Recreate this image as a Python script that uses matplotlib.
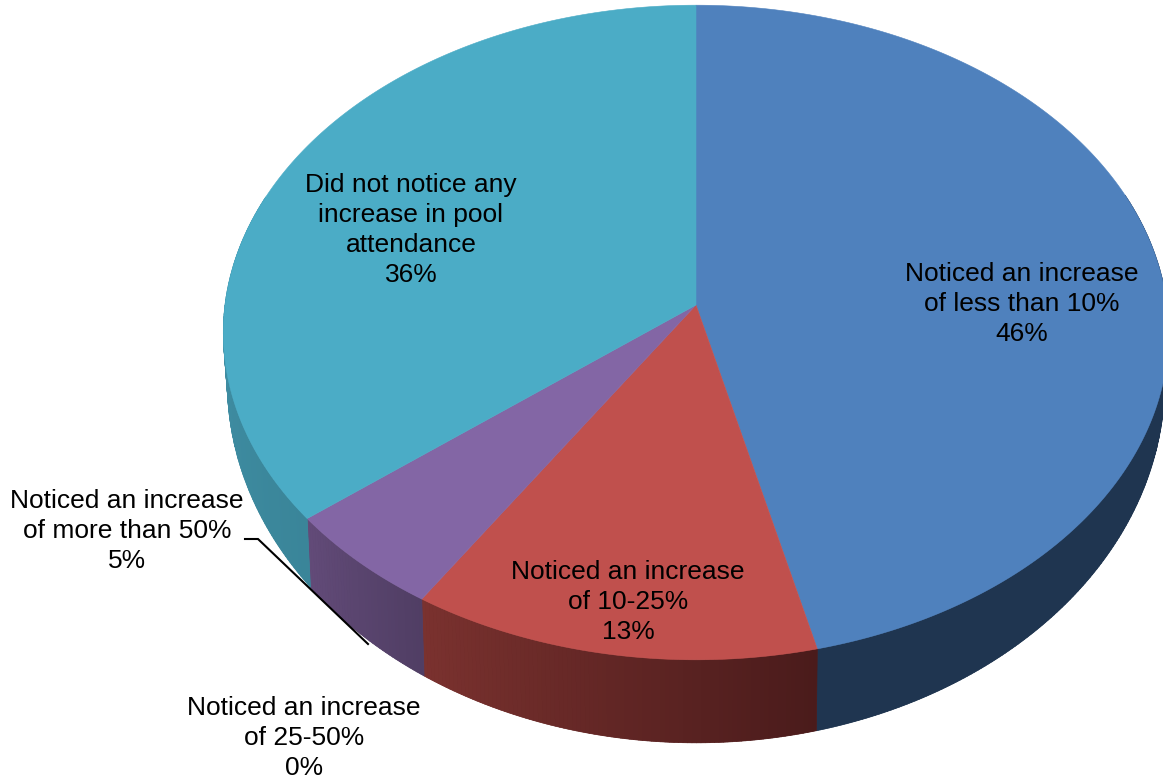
import numpy as np
import matplotlib
matplotlib.use('Agg')
import matplotlib.pyplot as plt
from matplotlib.collections import PolyCollection
from matplotlib.colors import to_rgb

categories = ['Noticed an increase\nof less than 10%',
              'Noticed an increase\nof 10-25%',
              'Noticed an increase\nof 25-50%',
              'Noticed an increase\nof more than 50%',
              'Did not notice any\nincrease in pool\nattendance']
values = [46.2, 12.9, 0, 5.2, 35.7]
top_colors = ['#4F81BD', '#C0504D', '#9BBB59', '#8366A5', '#4BACC6']
# side shade at the start and end of each slice (clockwise)
side_start = ['#1F3550', '#4A1B1B', '#5A6E35', '#503E64', '#3A8599']
side_end = ['#1F3550', '#7B322F', '#5A6E35', '#634B79', '#4BA3BC']
label_pos = [(1022, 304), (628, 602), (304, 738), (127, 531), (411, 230)]

plt.rcParams['font.family'] = ['Liberation Sans', 'DejaVu Sans']

# perspective of the pie, in pixels
CX, K = 696, 0.084
TOP_Y, TOP_R, TOP_S = 305, 471, 325
BOT_Y, BOT_R, BOT_S = 352, 467, 358


def rim(frac, y0, r, s):
    """fraction of the pie (clockwise from 12 o'clock) -> point on the tilted disc"""
    a = 2 * np.pi * np.asarray(frac)
    u, v = np.sin(a), -np.cos(a)
    d = 1 - K * v
    return CX + r * u / d, y0 + s * v / d


fig = plt.figure(figsize=(11.63, 7.8), dpi=100)
ax = fig.add_axes([0, 0, 1, 1])
ax.set_xlim(0, 1163)
ax.set_ylim(780, 0)
ax.axis('off')

shares = np.array(values) / sum(values)
edges = np.concatenate([[0], np.cumsum(shares)])

# side wall first, the top goes over it
for i in range(len(values)):
    if shares[i] == 0:
        continue
    n = max(int(shares[i] * 720), 2)
    f = np.linspace(edges[i], edges[i + 1], n + 1)
    f = f[np.cos(2 * np.pi * f) <= 0.35]  # back of the pie is hidden
    xt, yt = rim(f, TOP_Y, TOP_R, TOP_S)
    xb, yb = rim(f, BOT_Y, BOT_R, BOT_S)
    c0, c1 = np.array(to_rgb(side_start[i])), np.array(to_rgb(side_end[i]))
    # base polygon so no white shows through between the shaded strips
    ax.fill(np.r_[xt, xb[::-1]], np.r_[yt, yb[::-1]], color=(c0 + c1) / 2, lw=0)
    quads, cols = [], []
    for j in range(len(f) - 1):
        quads.append([(xt[j], yt[j]), (xt[j + 1], yt[j + 1]), (xb[j + 1], yb[j + 1]), (xb[j], yb[j])])
        cols.append(c0 + (c1 - c0) * (f[j] - edges[i]) / shares[i])
    ax.add_collection(PolyCollection(quads, facecolors=cols, edgecolors=cols, linewidths=0.5))

# top of the pie
for i in range(len(values)):
    if shares[i] == 0:
        continue
    f = np.linspace(edges[i], edges[i + 1], max(int(shares[i] * 720), 2) + 1)
    xt, yt = rim(f, TOP_Y, TOP_R, TOP_S)
    ax.fill(np.r_[CX, xt], np.r_[TOP_Y, yt], color=top_colors[i], lw=0.4, zorder=3)

# leader line of the >50% label
ax.plot([245, 258, 368], [539, 539, 644], color='black', lw=1.5, zorder=4, solid_joinstyle='miter')

for name, val, (x, y) in zip(categories, values, label_pos):
    ax.text(x, y, f'{name}\n{val:.0f}%', ha='center', va='center', multialignment='center',
            fontsize=19, linespacing=1.32, color='black', zorder=5)

fig.savefig('out.png', dpi=100)
